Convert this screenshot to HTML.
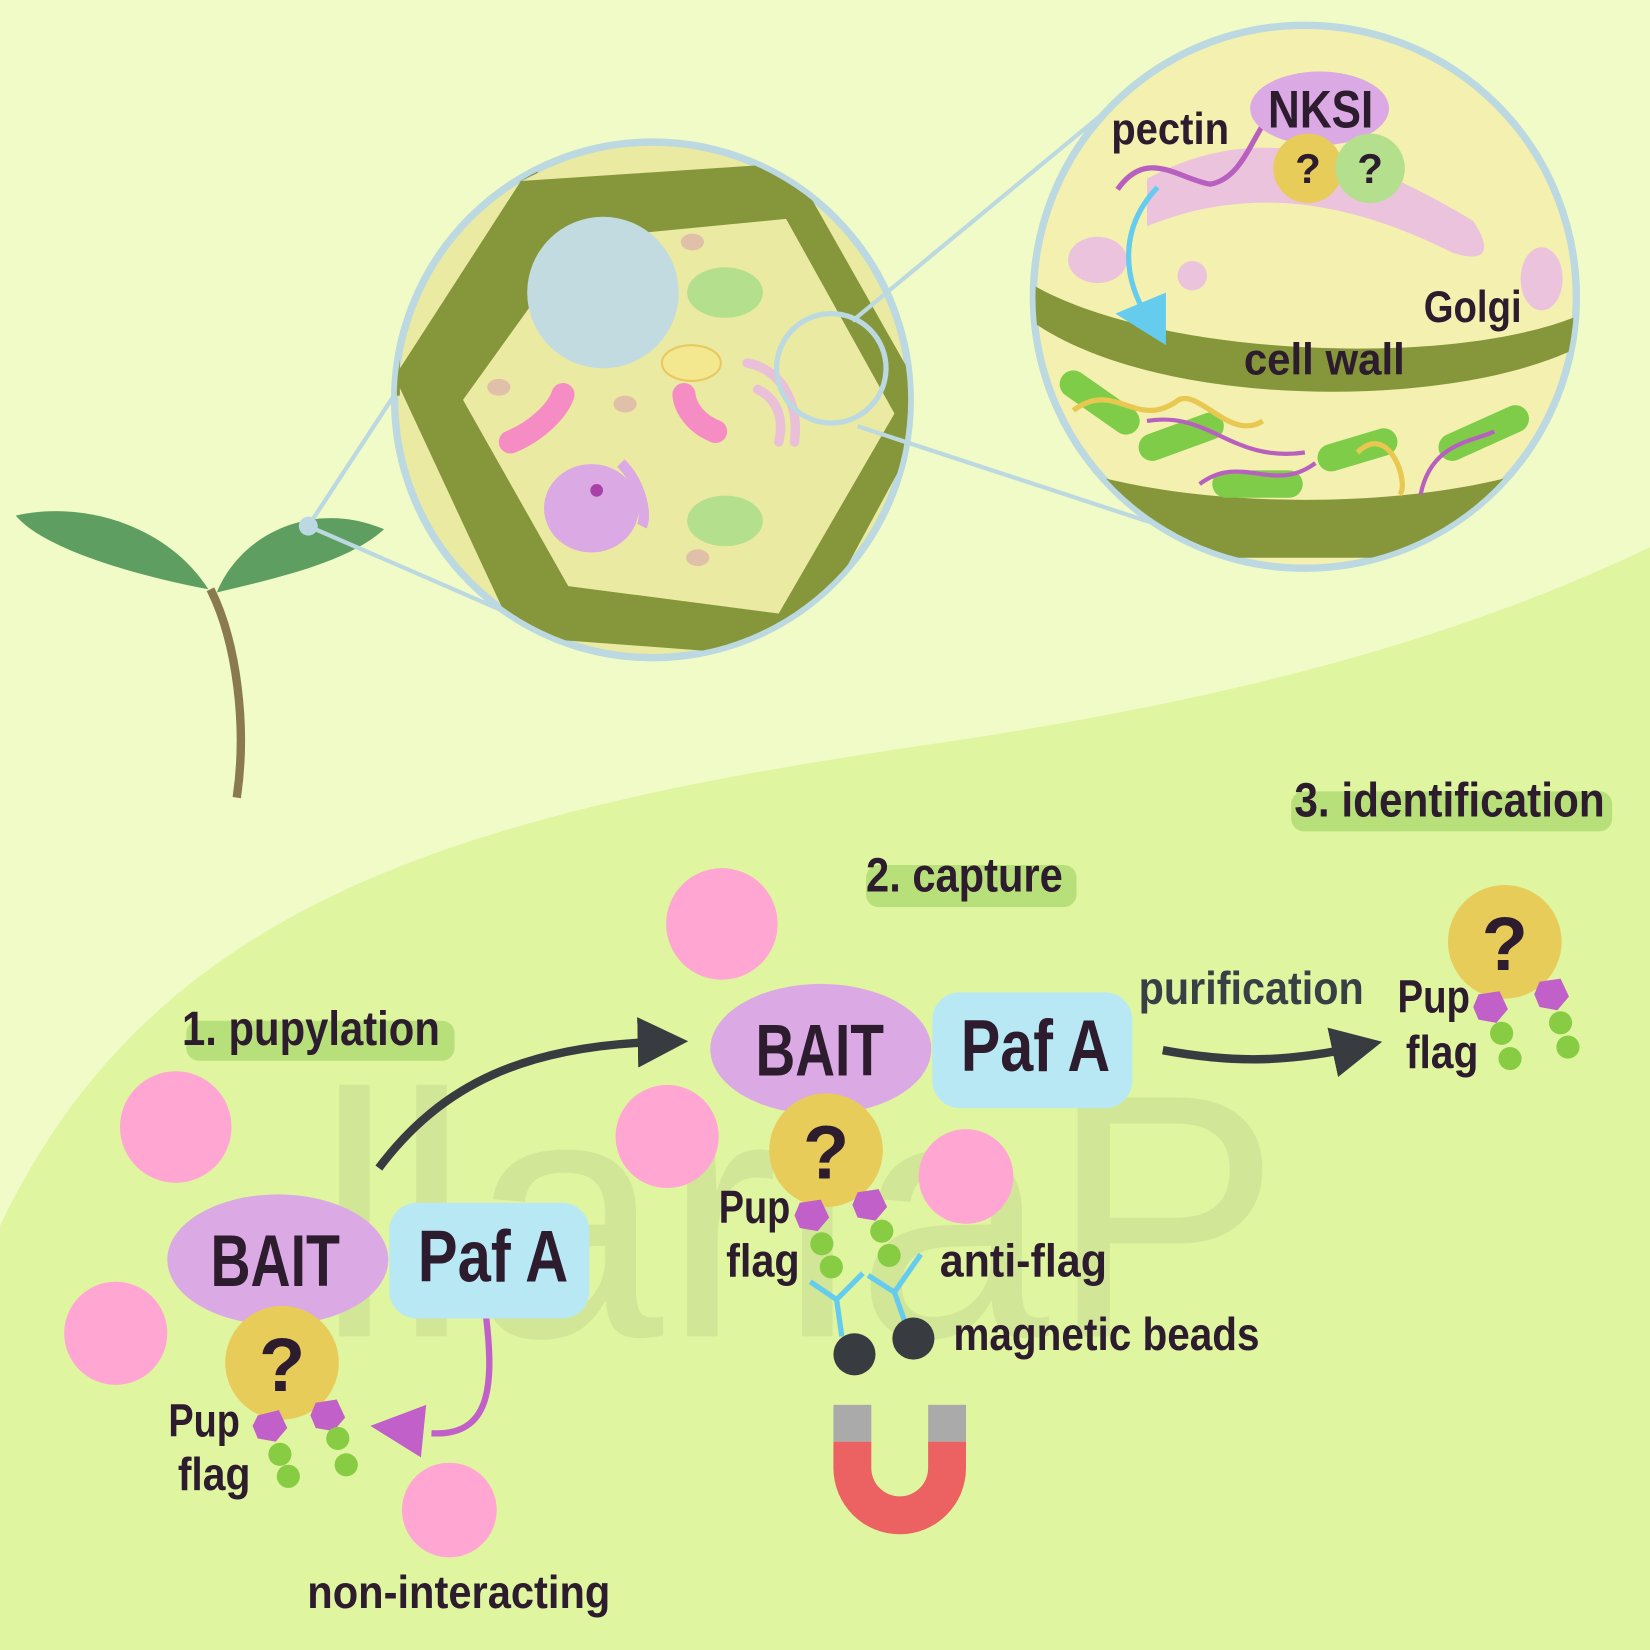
<!DOCTYPE html>
<html><head><meta charset="utf-8"><style>
html,body{margin:0;padding:0;width:1650px;height:1650px;overflow:hidden;background:#f0fbc8}
svg{display:block}
text{font-family:"Liberation Sans",sans-serif;font-weight:bold;fill:#2d1b2e}
</style></head><body>
<svg width="1650" height="1650" viewBox="0 0 1568 1568">
<defs>
<clipPath id="c1"><circle cx="620" cy="380" r="243"/></clipPath>
<clipPath id="c2"><circle cx="1240" cy="282" r="256"/></clipPath>
<marker id="ah" markerWidth="6" markerHeight="6" refX="3" refY="3" orient="auto"><path d="M0,0 L6,3 L0,6 Z" fill="#383c40"/></marker>
</defs>
<rect width="1568" height="1568" fill="#f0fbc8"/>
<path d="M0,1165 C150,850 450,770 900,705 C1200,660 1400,600 1568,520 L1568,1568 L0,1568 Z" fill="#dff5a0"/>

<g opacity="0.07">
<text x="300" y="1270" style="font-size:330px;font-weight:normal;fill:#333">llariaP</text>
</g>

<g>
<path d="M200,560 C225,610 235,690 225,758" stroke="#8a7a50" stroke-width="8" fill="none"/>
<path d="M198,560 C160,500 80,475 15,490 C40,520 120,545 198,560 Z" fill="#5e9e60"/>
<path d="M206,563 C230,505 300,475 365,503 C330,535 260,550 206,563 Z" fill="#5e9e60"/>
</g>
<line x1="293" y1="500" x2="470" y2="230" stroke="#bcd8e0" stroke-width="4"/>
<line x1="293" y1="500" x2="500" y2="590" stroke="#bcd8e0" stroke-width="4"/>
<circle cx="293" cy="500" r="9" fill="#bcd8e0"/>

<g>
<circle cx="620" cy="380" r="245" fill="#ebeaa2" stroke="#bcd8e0" stroke-width="7"/>
<g clip-path="url(#c1)">
<polygon points="495,172 752,155 885,390 758,625 490,605 375,358" fill="#85973a"/>
<polygon points="550,227 747,208 850,393 740,583 540,557 440,380" fill="#ebeaa2"/>
<path d="M380,358 L330,358 M495,172 L465,110 M752,155 L780,100 M885,390 L930,400 M758,625 L785,690 M490,605 L460,660" stroke="#85973a" stroke-width="36"/>
<circle cx="573" cy="278" r="72" fill="#c1dbe0"/>
<ellipse cx="689" cy="278" rx="36" ry="24" fill="#b4df8c"/>
<ellipse cx="689" cy="495" rx="36" ry="24" fill="#b4df8c"/>
<ellipse cx="562" cy="483" rx="45" ry="42" fill="#dba9e3"/>
<circle cx="567" cy="466" r="6" fill="#a840a8"/>
<path d="M485,420 C510,410 530,390 535,375" stroke="#f68cc4" stroke-width="22" stroke-linecap="round" fill="none"/>
<path d="M680,410 C655,400 650,380 650,375" stroke="#f68cc4" stroke-width="22" stroke-linecap="round" fill="none"/>
<ellipse cx="657" cy="345" rx="28" ry="17" fill="#f3e890" stroke="#e8c860" stroke-width="2"/>
<path d="M710,345 C740,350 760,380 755,420 M720,370 C740,380 745,400 740,420" stroke="#e9c0d8" stroke-width="9" fill="none" stroke-linecap="round"/>
<path d="M590,440 C610,460 615,490 610,500" stroke="#dba9e3" stroke-width="10" fill="none"/>
<ellipse cx="658" cy="230" rx="11" ry="8" fill="#e0c0a8"/>
<ellipse cx="474" cy="368" rx="11" ry="8" fill="#e0c0a8"/>
<ellipse cx="594" cy="384" rx="11" ry="8" fill="#e0c0a8"/>
<ellipse cx="663" cy="530" rx="11" ry="8" fill="#e0c0a8"/>
</g>
</g>
<circle cx="790" cy="350" r="52" fill="none" stroke="#bcd8e0" stroke-width="5"/>
<line x1="810" y1="305" x2="1070" y2="90" stroke="#bcd8e0" stroke-width="4"/>
<line x1="815" y1="405" x2="1135" y2="510" stroke="#bcd8e0" stroke-width="4"/>

<g>
<circle cx="1240" cy="282" r="258" fill="#f4f0b0" stroke="#bcd8e0" stroke-width="7"/>
<g clip-path="url(#c2)">
<path d="M980,270 C1100,340 1380,350 1500,300 L1500,330 C1380,390 1100,390 980,305 Z" fill="#85973a"/>
<path d="M980,430 C1100,490 1380,490 1500,430 L1500,530 L980,530 Z" fill="#85973a"/>
<path d="M1090,170 C1200,110 1300,150 1400,210 C1420,240 1410,250 1380,240 C1300,200 1200,170 1090,215 Z" fill="#ebc3dd"/>
<ellipse cx="1043" cy="247" rx="28" ry="22" fill="#ebc3dd"/>
<circle cx="1133" cy="262" r="14" fill="#ebc3dd"/>
<ellipse cx="1465" cy="265" rx="20" ry="30" fill="#ebc3dd"/>
<g stroke="#7ecc48" stroke-width="26" stroke-linecap="round">
<line x1="1020" y1="365" x2="1070" y2="400"/>
<line x1="1095" y1="425" x2="1150" y2="405"/>
<line x1="1165" y1="460" x2="1225" y2="460"/>
<line x1="1265" y1="435" x2="1315" y2="420"/>
<line x1="1380" y1="425" x2="1440" y2="398"/>
</g>
<path d="M1020,390 C1060,360 1080,410 1120,380 C1140,370 1170,420 1200,400" stroke="#e8c850" stroke-width="5" fill="none"/>
<path d="M1290,430 C1320,400 1340,460 1330,470" stroke="#e8c850" stroke-width="5" fill="none"/>
<path d="M1090,400 C1150,390 1170,440 1240,430 M1140,460 C1180,430 1210,470 1250,440 M1350,470 C1360,420 1400,420 1420,410" stroke="#b860c0" stroke-width="4" fill="none"/>
</g>
<path d="M1062,180 C1090,140 1120,170 1150,175 C1180,170 1190,130 1205,112" stroke="#b860c0" stroke-width="5" fill="none"/>
<path d="M1100,178 C1060,220 1070,270 1090,300" stroke="#66ccee" stroke-width="5" fill="none"/>
<polygon points="1060,298 1108,278 1108,328" fill="#66ccee"/>
<ellipse cx="1254" cy="103" rx="66" ry="35" fill="#dba9e3"/>
<circle cx="1243" cy="160" r="33" fill="#e8cc5a"/>
<circle cx="1302" cy="160" r="33" fill="#b4df8c"/>
<text x="1205" y="121" font-size="50" textLength="100" lengthAdjust="spacingAndGlyphs">NKSI</text>
<text x="1243" y="174" text-anchor="middle" font-size="40">?</text>
<text x="1302" y="174" text-anchor="middle" font-size="40">?</text>
<text x="1056" y="137" font-size="42" textLength="112" lengthAdjust="spacingAndGlyphs">pectin</text>
<text x="1353" y="306" font-size="42" textLength="93" lengthAdjust="spacingAndGlyphs">Golgi</text>
<text x="1182" y="356" font-size="42" textLength="153" lengthAdjust="spacingAndGlyphs">cell wall</text>
</g>

<rect x="177" y="970" width="255" height="38" rx="12" fill="#b8e07a"/>
<text x="173" y="993" font-size="46" textLength="245" lengthAdjust="spacingAndGlyphs">1. pupylation</text>
<rect x="823" y="822" width="200" height="40" rx="12" fill="#b8e07a"/>
<text x="823" y="847" font-size="46" textLength="187" lengthAdjust="spacingAndGlyphs">2. capture</text>
<rect x="1227" y="752" width="305" height="38" rx="12" fill="#b8e07a"/>
<text x="1230" y="776" font-size="46" textLength="295" lengthAdjust="spacingAndGlyphs">3. identification</text>

<g fill="#ffa6d2">
<circle cx="167" cy="1071" r="53"/><circle cx="110" cy="1267" r="49"/><circle cx="427" cy="1435" r="45"/>
<circle cx="686" cy="878" r="53"/><circle cx="634" cy="1080" r="49"/><circle cx="918" cy="1118" r="45"/>
</g>

<g>
<path d="M462,1252 C470,1320 465,1365 410,1362" stroke="#c060c8" stroke-width="6" fill="none"/>
<polygon points="352,1355 405,1335 400,1385" fill="#c060c8"/>
<ellipse cx="264" cy="1197" rx="105" ry="62" fill="#dba9e3"/>
<rect x="370" y="1143" width="190" height="110" rx="26" fill="#b9e8f5"/>
<text x="200" y="1222" font-size="70" textLength="123" lengthAdjust="spacingAndGlyphs">BAIT</text>
<text x="397" y="1218" font-size="70" textLength="143" lengthAdjust="spacingAndGlyphs">Paf A</text>
<circle cx="268" cy="1295" r="54" fill="#e8cc5a"/>
<text x="268" y="1322" text-anchor="middle" font-size="72">?</text>
<polygon points="245,1345 265,1340 273,1357 262,1370 245,1367 240,1355" fill="#c060c8"/>
<polygon points="300,1333 320,1330 328,1347 317,1360 300,1357 295,1345" fill="#c060c8"/>
<g fill="#88cc44"><circle cx="266" cy="1382" r="11"/><circle cx="274" cy="1403" r="11"/><circle cx="321" cy="1367" r="11"/><circle cx="329" cy="1392" r="11"/></g>
<text x="160" y="1365" font-size="44" textLength="68" lengthAdjust="spacingAndGlyphs">Pup</text>
<text x="169" y="1416" font-size="44" textLength="69" lengthAdjust="spacingAndGlyphs">flag</text>
</g>
<text x="292" y="1528" font-size="44" textLength="288" lengthAdjust="spacingAndGlyphs">non-interacting</text>
<path d="M360,1110 C420,1030 500,993 630,990" stroke="#383c40" stroke-width="8" fill="none" marker-end="url(#ah)"/>

<g>
<ellipse cx="780" cy="997" rx="105" ry="62" fill="#dba9e3"/>
<rect x="886" y="943" width="190" height="110" rx="26" fill="#b9e8f5"/>
<text x="718" y="1022" font-size="70" textLength="122" lengthAdjust="spacingAndGlyphs">BAIT</text>
<text x="913" y="1018" font-size="70" textLength="142" lengthAdjust="spacingAndGlyphs">Paf A</text>
<circle cx="785" cy="1093" r="54" fill="#e8cc5a"/>
<text x="785" y="1120" text-anchor="middle" font-size="72">?</text>
<polygon points="760,1143 780,1140 788,1157 777,1170 760,1167 755,1155" fill="#c060c8"/>
<polygon points="815,1133 835,1130 843,1147 832,1160 815,1157 810,1145" fill="#c060c8"/>
<g fill="#88cc44"><circle cx="781" cy="1182" r="11"/><circle cx="790" cy="1204" r="11"/><circle cx="838" cy="1170" r="11"/><circle cx="845" cy="1193" r="11"/></g>
<text x="683" y="1162" font-size="44" textLength="68" lengthAdjust="spacingAndGlyphs">Pup</text>
<text x="690" y="1213" font-size="44" textLength="70" lengthAdjust="spacingAndGlyphs">flag</text>
<g stroke="#66ccee" stroke-width="5" fill="none">
<path d="M770,1218 L795,1235 L820,1210 M795,1235 L800,1270"/>
<path d="M825,1212 L850,1228 L875,1192 M850,1228 L862,1262"/>
</g>
<circle cx="812" cy="1287" r="20" fill="#383c40"/>
<circle cx="868" cy="1272" r="20" fill="#383c40"/>
<text x="893" y="1213" font-size="44" textLength="159" lengthAdjust="spacingAndGlyphs">anti-flag</text>
<text x="906" y="1283" font-size="44" textLength="291" lengthAdjust="spacingAndGlyphs">magnetic beads</text>
</g>
<g>
<path d="M792,1370 L792,1395 A63,63 0 0 0 918,1395 L918,1370 L882,1370 L882,1395 A27,27 0 0 1 828,1395 L828,1370 Z" fill="#ec6262"/>
<rect x="792" y="1335" width="36" height="35" fill="#aaaaaa"/>
<rect x="882" y="1335" width="36" height="35" fill="#aaaaaa"/>
</g>

<text x="1082" y="954" font-size="44" textLength="214" lengthAdjust="spacingAndGlyphs" style="fill:#3a3f46">purification</text>
<path d="M1105,998 C1170,1010 1220,1010 1290,995" stroke="#383c40" stroke-width="8" fill="none" marker-end="url(#ah)"/>

<g>
<circle cx="1430" cy="895" r="54" fill="#e8cc5a"/>
<text x="1430" y="922" text-anchor="middle" font-size="72">?</text>
<polygon points="1405,945 1425,942 1433,959 1422,972 1405,969 1400,957" fill="#c060c8"/>
<polygon points="1463,933 1483,930 1491,947 1480,960 1463,957 1458,945" fill="#c060c8"/>
<g fill="#88cc44"><circle cx="1427" cy="982" r="11"/><circle cx="1435" cy="1006" r="11"/><circle cx="1483" cy="972" r="11"/><circle cx="1490" cy="995" r="11"/></g>
<text x="1328" y="962" font-size="44" textLength="69" lengthAdjust="spacingAndGlyphs">Pup</text>
<text x="1336" y="1015" font-size="44" textLength="69" lengthAdjust="spacingAndGlyphs">flag</text>
</g>
</svg>
</body></html>
